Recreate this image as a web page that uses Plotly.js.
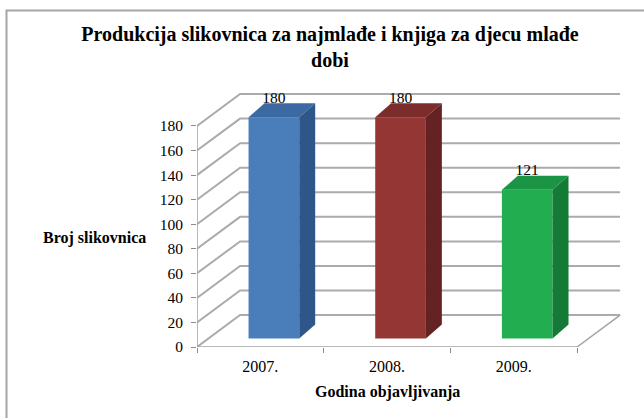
<!DOCTYPE html>
<html>
<head>
<meta charset="utf-8">
<script src="https://cdn.plot.ly/plotly-3.0.1.min.js"></script>
<style>
  html, body { margin: 0; padding: 0; background: #ffffff; }
  #chart { width: 644px; height: 418px; }
</style>
</head>
<body>
<div id="chart"></div>
<script>
// ---- data ----
const categories = ['2007.', '2008.', '2009.'];
const values = [180, 180, 121];
const valueLabels = ['180', '180', '121'];
const yTickVals = [0, 20, 40, 60, 80, 100, 120, 140, 160, 180];
const frontColors = ['#4A7EBB', '#943634', '#22AD50'];
const topColors = ['#3C69A1', '#7C2D2B', '#1B9445'];
const sideColors = ['#2F5689', '#642322', '#147B37'];

// ---- geometry (pseudo-3D projection, in axis units) ----
const X0 = -0.5, XN = categories.length - 0.5;
const WALL_DX = 0.34, WALL_DY = 26;
const BAR_SHIFT = 0.107, BAR_HALF = 0.20, BAR_BASE = 7, BAR_DX = 0.126, BAR_DY = 11.4;
const LABEL_DY = 3.5;
const yMaxTick = yTickVals[yTickVals.length - 1];

const gridColor = '#ababab';
const shapes = [];
yTickVals.forEach(v => {
  shapes.push({
    type: 'path', xref: 'x', yref: 'y', layer: 'below',
    path: `M ${X0},${v} L ${X0 + WALL_DX},${v + WALL_DY} L ${XN + WALL_DX},${v + WALL_DY}`,
    line: { color: gridColor, width: 2 }
  });
});
// front axis edges + floor
shapes.push({
  type: 'path', xref: 'x', yref: 'y', layer: 'below',
  path: `M ${X0},${yMaxTick} L ${X0},0 L ${XN},0 L ${XN + WALL_DX},${WALL_DY}`,
  line: { color: '#a3a3a3', width: 1.5 }
});
// outer frame
shapes.push({
  type: 'rect', xref: 'paper', yref: 'paper', layer: 'above',
  x0: (6.5 - 197) / 425, x1: (700 - 197) / 425,
  y0: (347 - 460) / 254, y1: (347 - 10.5) / 254,
  line: { color: '#a6a6a6', width: 2 }, fillcolor: 'rgba(0,0,0,0)'
});

const traces = [];
// front faces (bars)
traces.push({
  type: 'bar',
  x: categories.map((c, i) => i + BAR_SHIFT),
  y: values,
  base: BAR_BASE,
  width: 2 * BAR_HALF,
  marker: { color: frontColors, line: { width: 0 } },
  hoverinfo: 'skip', showlegend: false
});
// top & side faces
values.forEach((v, i) => {
  const xl = i + BAR_SHIFT - BAR_HALF, xr = i + BAR_SHIFT + BAR_HALF;
  const yb = BAR_BASE, yt = BAR_BASE + v;
  traces.push({
    type: 'scatter', mode: 'lines', fill: 'toself',
    x: [xl, xr, xr + BAR_DX, xl + BAR_DX, xl],
    y: [yt, yt, yt + BAR_DY, yt + BAR_DY, yt],
    line: { width: 0, color: topColors[i] }, fillcolor: topColors[i],
    hoverinfo: 'skip', showlegend: false
  });
  traces.push({
    type: 'scatter', mode: 'lines', fill: 'toself',
    x: [xr, xr, xr + BAR_DX, xr + BAR_DX, xr],
    y: [yb, yt, yt + BAR_DY, yb + BAR_DY, yb],
    line: { width: 0, color: sideColors[i] }, fillcolor: sideColors[i],
    hoverinfo: 'skip', showlegend: false
  });
});
// value labels (on overlaying axis carrying category labels)
traces.push({
  type: 'scatter', mode: 'text', xaxis: 'x2', yaxis: 'y',
  x: categories.map((c, i) => i + BAR_SHIFT),
  y: values.map(v => v + BAR_BASE + BAR_DY + LABEL_DY),
  text: valueLabels,
  textposition: 'middle center',
  textfont: { family: 'Liberation Serif, Times New Roman, serif', size: 15.5, color: '#000000' },
  cliponaxis: false,
  hoverinfo: 'skip', showlegend: false
});

const xRange = [X0, X0 + 425 / 126.67];
const yRange = [0, 254 / 1.228];
const serif = 'Liberation Serif, Times New Roman, serif';

const layout = {
  width: 644, height: 418,
  margin: { l: 197, r: 22, t: 93, b: 71 },
  paper_bgcolor: '#ffffff', plot_bgcolor: 'rgba(0,0,0,0)',
  showlegend: false,
  title: {
    text: 'Produkcija slikovnica za najmlađe i knjiga za djecu mlađe<br>dobi',
    font: { family: serif, size: 20, color: '#000000', weight: 'bold' },
    x: 330 / 644, xanchor: 'center', xref: 'container',
    y: 1 - 41 / 418, yanchor: 'top', yref: 'container'
  },
  xaxis: {
    range: xRange, showgrid: false, zeroline: false, showline: false,
    tickmode: 'array',
    tickvals: categories.map((c, i) => i - 0.5).concat([XN]),
    ticktext: categories.map(() => '').concat(['']),
    ticks: 'outside', ticklen: 5, tickcolor: '#8c8c8c', tickwidth: 1
  },
  xaxis2: {
    overlaying: 'x', anchor: 'y', side: 'bottom',
    range: xRange, showgrid: false, zeroline: false, showline: false,
    tickmode: 'array',
    tickvals: categories.map((c, i) => i),
    ticktext: categories,
    ticks: 'outside', ticklen: 5, tickcolor: 'rgba(0,0,0,0)',
    tickfont: { family: serif, size: 16, color: '#000000' }
  },
  yaxis: {
    range: yRange, showgrid: false, zeroline: false, showline: false,
    tickmode: 'array', tickvals: yTickVals,
    ticks: 'outside', ticklen: 5, tickcolor: '#8c8c8c', tickwidth: 1,
    ticklabelstandoff: 5,
    tickfont: { family: serif, size: 15.5, color: '#000000' }
  },
  shapes: shapes,
  annotations: [
    {
      text: 'Broj slikovnica', xref: 'paper', yref: 'paper',
      x: (94.5 - 197) / 425, y: (347 - 238) / 254,
      xanchor: 'center', yanchor: 'middle', showarrow: false,
      font: { family: serif, size: 16, color: '#000000', weight: 'bold' }
    },
    {
      text: 'Godina objavljivanja', xref: 'paper', yref: 'paper',
      x: (387 - 197) / 425, y: (347 - 392) / 254,
      xanchor: 'center', yanchor: 'middle', showarrow: false,
      font: { family: serif, size: 16, color: '#000000', weight: 'bold' }
    }
  ]
};

Plotly.newPlot('chart', traces, layout, { staticPlot: true, displayModeBar: false });
</script>
</body>
</html>
